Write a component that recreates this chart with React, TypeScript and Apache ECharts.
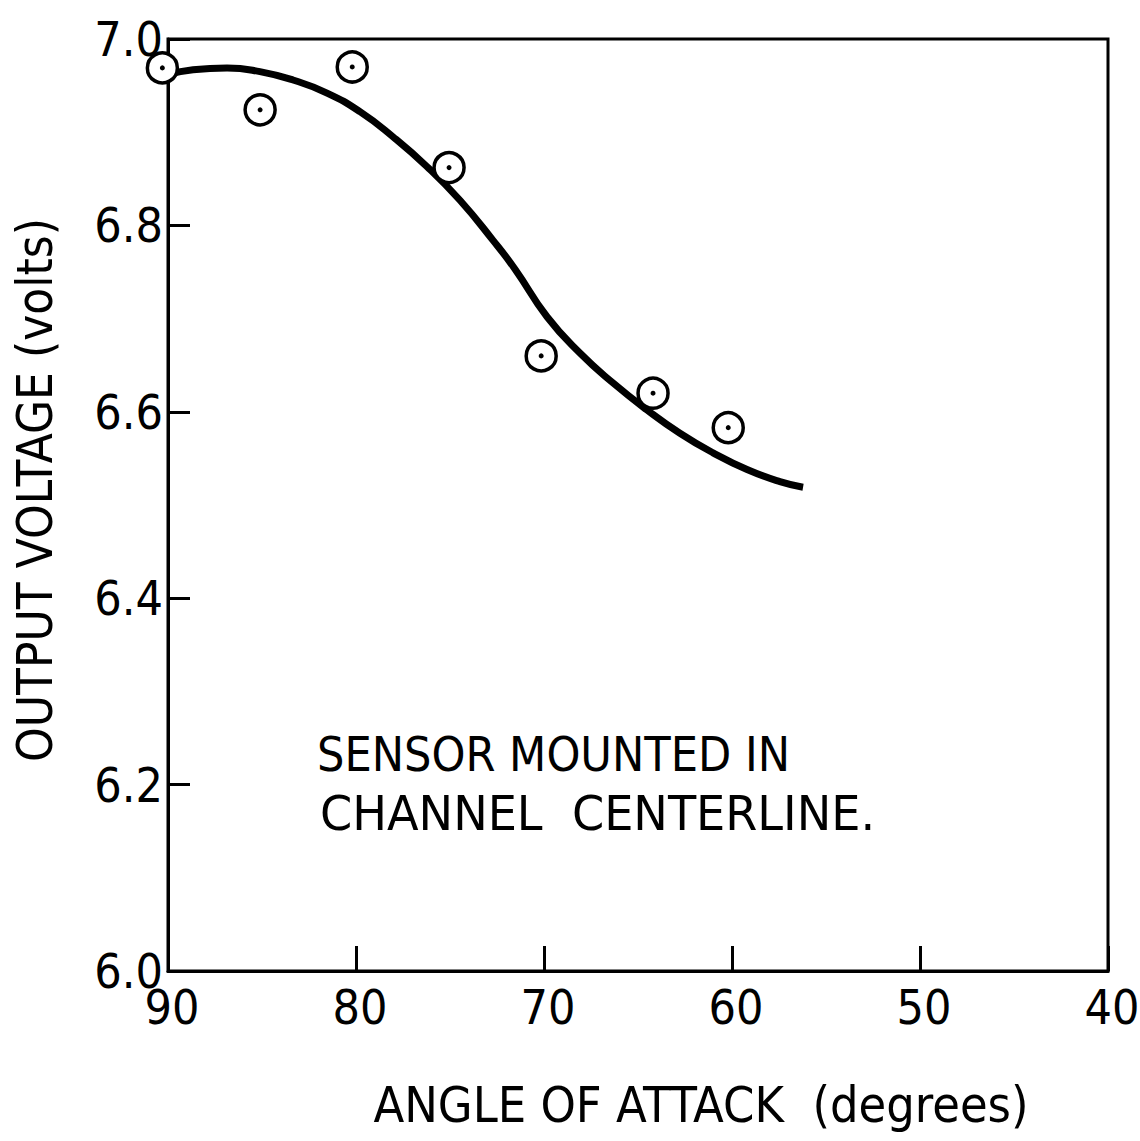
import React, { useEffect, useRef } from "react";
import * as echarts from "echarts";

// Measured data points (angle of attack in degrees, output voltage in volts)
const pointAngles = [90.3, 85.1, 80.2, 75.05, 70.15, 64.2, 60.2];
const pointVolts = [6.969, 6.924, 6.97, 6.862, 6.66, 6.62, 6.583];

// Faired curve through the data
const curveAngles = [90.0, 88.67, 86.86, 85.11, 83.35, 81.54, 79.79, 78.03, 76.22, 74.47, 72.71, 71.54, 69.84, 68.09, 66.33, 64.52, 62.77, 61.01, 59.2, 57.45, 56.22];
const curveVolts = [6.962, 6.967, 6.969, 6.965, 6.956, 6.942, 6.922, 6.895, 6.863, 6.827, 6.784, 6.753, 6.702, 6.663, 6.631, 6.602, 6.577, 6.556, 6.538, 6.525, 6.519];

const xTicks = [40, 50, 60, 70, 80, 90];
const yTicks = [6.0, 6.2, 6.4, 6.6, 6.8, 7.0];

const xName = "ANGLE OF ATTACK  (degrees)";
const yName = "OUTPUT VOLTAGE (volts)";
const noteLines = ["SENSOR MOUNTED IN", "CHANNEL  CENTERLINE."];

const FONT = "'DejaVu Sans Condensed', 'Liberation Sans', sans-serif";

export default function App() {
  const ref = useRef<HTMLDivElement>(null);
  useEffect(() => {
    document.body.style.margin = "0";
    const chart = echarts.init(ref.current!, null, { renderer: "svg" });
    const points = pointAngles.map((a, i) => [a, pointVolts[i]]);
    const curve = curveAngles.map((a, i) => [a, curveVolts[i]]);
    chart.setOption({
      animation: false,
      backgroundColor: "#fff",
      grid: {
        left: 168,
        right: 32,
        top: 39,
        bottom: 170,
        containLabel: false,
        outerBoundsMode: "none",
        show: true,
        borderColor: "#000",
        borderWidth: 3,
      },
      xAxis: {
        type: "value",
        min: xTicks[0],
        max: xTicks[xTicks.length - 1],
        interval: 10,
        inverse: true,
        splitLine: { show: false },
        axisLine: { show: true, lineStyle: { color: "#000", width: 3 } },
        axisTick: { show: true, inside: true, length: 25, lineStyle: { color: "#000", width: 3 } },
        axisLabel: {
          color: "#000",
          fontFamily: FONT,
          fontSize: 48,
          lineHeight: 38,
          margin: 17,
          padding: [0, 0, 0, 8],
          formatter: (v: number) => String(v),
        },
      },
      yAxis: {
        type: "value",
        min: yTicks[0],
        max: yTicks[yTicks.length - 1],
        interval: 0.2,
        splitLine: { show: false },
        axisLine: { show: true, lineStyle: { color: "#000", width: 3 } },
        axisTick: { show: true, inside: true, length: 22, lineStyle: { color: "#000", width: 3 } },
        axisLabel: {
          color: "#000",
          fontFamily: FONT,
          fontSize: 48,
          lineHeight: 34,
          margin: 5,
          formatter: (v: number) => v.toFixed(1),
        },
      },
      graphic: [
        {
          type: "text",
          x: 701,
          y: 1105,
          style: {
            text: xName,
            fontFamily: FONT,
            fontSize: 50,
            fill: "#000",
            textAlign: "center",
            textVerticalAlign: "middle",
          },
        },
        {
          type: "text",
          x: 35,
          y: 490,
          rotation: Math.PI / 2,
          style: {
            text: yName,
            fontFamily: FONT,
            fontSize: 49,
            fill: "#000",
            textAlign: "center",
            textVerticalAlign: "middle",
          },
        },
        {
          type: "text",
          x: 317,
          y: 730,
          style: { text: noteLines[0], fontFamily: FONT, fontSize: 48, fill: "#000" },
        },
        {
          type: "text",
          x: 320,
          y: 790,
          scaleX: 1.07,
          style: { text: noteLines[1], fontFamily: FONT, fontSize: 48, fill: "#000" },
        },
      ],
      series: [
        {
          type: "line",
          data: curve,
          smooth: true,
          showSymbol: false,
          lineStyle: { color: "#000", width: 7 },
          clip: false,
          z: 2,
        },
        {
          type: "scatter",
          data: points,
          symbol: "circle",
          symbolSize: 30,
          itemStyle: { color: "#fff", borderColor: "#000", borderWidth: 3.5, opacity: 1 },
          clip: false,
          z: 3,
        },
        {
          type: "scatter",
          data: points,
          symbol: "circle",
          symbolSize: 5,
          itemStyle: { color: "#000", opacity: 1 },
          clip: false,
          z: 4,
        },
      ],
    });
    return () => chart.dispose();
  }, []);
  return <div ref={ref} style={{ width: 1140, height: 1141 }} />;
}
